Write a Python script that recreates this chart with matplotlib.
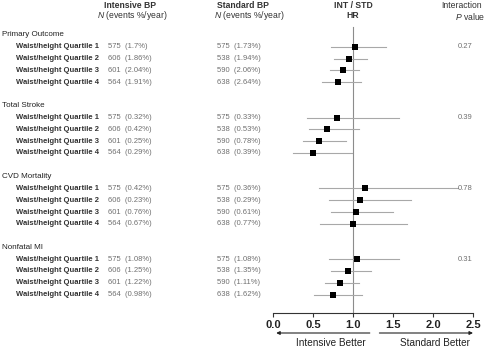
import matplotlib
matplotlib.use("Agg")
import matplotlib.pyplot as plt
from matplotlib.transforms import blended_transform_factory

plt.rcParams['font.family'] = ['Liberation Sans', 'DejaVu Sans']
plt.rcParams['mathtext.fontset'] = 'custom'
plt.rcParams['mathtext.it'] = 'Liberation Sans:italic'
plt.rcParams['mathtext.rm'] = 'Liberation Sans'

# data
outcomes = ['Primary Outcome', 'Total Stroke', 'CVD Mortality', 'Nonfatal MI']
quartiles = ['Waist/height Quartile 1', 'Waist/height Quartile 2',
             'Waist/height Quartile 3', 'Waist/height Quartile 4']
n_int = [575, 606, 601, 564]
n_std = [575, 538, 590, 638]
rate_int = [['1.7', '1.86', '2.04', '1.91'],
            ['0.32', '0.42', '0.25', '0.29'],
            ['0.42', '0.23', '0.76', '0.67'],
            ['1.08', '1.25', '1.22', '0.98']]
rate_std = [['1.73', '1.94', '2.06', '2.64'],
            ['0.33', '0.53', '0.78', '0.39'],
            ['0.36', '0.29', '0.61', '0.77'],
            ['1.08', '1.35', '1.11', '1.62']]
hr = [[1.02, 0.95, 0.875, 0.81],
      [0.80, 0.68, 0.58, 0.50],
      [1.15, 1.09, 1.04, 1.00],
      [1.05, 0.94, 0.84, 0.75]]
ci_low = [[0.73, 0.76, 0.71, 0.61],
          [0.42, 0.45, 0.375, 0.25],
          [0.575, 0.70, 0.73, 0.59],
          [0.70, 0.72, 0.65, 0.51]]
ci_high = [[1.41, 1.18, 1.075, 1.10],
           [1.58, 1.07, 0.91, 0.99],
           [2.31, 1.72, 1.50, 1.68],
           [1.57, 1.22, 1.08, 1.11]]
p_inter = ['0.27', '0.39', '0.78', '0.31']
xticks = [0.0, 0.5, 1.0, 1.5, 2.0, 2.5]

W, H = 486, 348
fig = plt.figure(figsize=(W / 100, H / 100), dpi=100)
ax = fig.add_axes([273 / W, (H - 313) / H, 200 / W, 313 / H])
ax.set_xlim(0, 2.5)
ax.set_ylim(278 / 11.8, -35 / 11.8)
for s in ['top', 'left', 'right']:
    ax.spines[s].set_visible(False)
ax.spines['bottom'].set_color('#333333')
ax.spines['bottom'].set_linewidth(0.8)
ax.set_yticks([])
ax.set_xticks(xticks)
ax.set_xticklabels(['%.1f' % t for t in xticks], fontsize=8, fontweight='bold', color='#222222')
ax.tick_params(axis='x', length=3, width=0.8, color='#333333', pad=2)
ax.patch.set_visible(False)

ax.plot([1, 1], [-0.7, 278 / 11.8], color='#8c8c8c', lw=0.8, zorder=1)

tr = blended_transform_factory(fig.transFigure, ax.transData)
grey = '#707070'
dark = '#333333'

for g, name in enumerate(outcomes):
    r0 = g * 6
    fig.text(2 / W, r0, name, transform=tr, fontsize=5.8, color='#222222', va='center')
    for k in range(4):
        r = r0 + k + 1
        fig.text(16 / W, r, quartiles[k], transform=tr, fontsize=5.5,
                 fontweight='bold', color=dark, va='center')
        fig.text(108 / W, r, '%d  (%s%%)' % (n_int[k], rate_int[g][k]), transform=tr,
                 fontsize=5.5, color=grey, va='center')
        fig.text(217 / W, r, '%d  (%s%%)' % (n_std[k], rate_std[g][k]), transform=tr,
                 fontsize=5.5, color=grey, va='center')
        ax.plot([ci_low[g][k], ci_high[g][k]], [r, r], color='#a8a8a8', lw=0.8, zorder=2)
        ax.plot(hr[g][k], r, marker='s', color='black', markersize=4.6,
                markeredgewidth=0, zorder=3)
    fig.text(465 / W, r0 + 1, p_inter[g], transform=tr, fontsize=5.5,
             color=grey, va='center', ha='center')

# column headers
def ytop(px):
    return 1 - px / H

fig.text(130 / W, ytop(5), 'Intensive BP', fontsize=6.2, fontweight='bold', color=dark, ha='center', va='center')
fig.text(132 / W, ytop(16), '$\\mathit{N}$ (events %/year)', fontsize=6.2, color=dark, ha='center', va='center')
fig.text(243 / W, ytop(5), 'Standard BP', fontsize=6.2, fontweight='bold', color=dark, ha='center', va='center')
fig.text(249 / W, ytop(16), '$\\mathit{N}$ (events %/year)', fontsize=6.2, color=dark, ha='center', va='center')
fig.text(353 / W, ytop(5), 'INT / STD', fontsize=6.2, fontweight='bold', color=dark, ha='center', va='center')
fig.text(353 / W, ytop(16), 'HR', fontsize=6.2, fontweight='bold', color=dark, ha='center', va='center')
fig.text(462 / W, ytop(5), 'Interaction', fontsize=6.2, color=dark, ha='center', va='center')
fig.text(470 / W, ytop(16), '$\\mathit{P}$ value', fontsize=6.2, color=dark, ha='center', va='center')

# direction arrows below the axis
ya = ytop(333)
ax.annotate('', xy=(0.04, ya), xytext=(1.21, ya), xycoords=('data', 'figure fraction'),
            arrowprops=dict(arrowstyle='-|>', color='#222222', lw=0.8,
                            mutation_scale=5, shrinkA=0, shrinkB=0))
ax.annotate('', xy=(2.5, ya), xytext=(1.33, ya), xycoords=('data', 'figure fraction'),
            arrowprops=dict(arrowstyle='-|>', color='#222222', lw=0.8,
                            mutation_scale=5, shrinkA=0, shrinkB=0))
tb = blended_transform_factory(ax.transData, fig.transFigure)
ax.text(0.72, ytop(343), 'Intensive Better', transform=tb, fontsize=7.2,
        color='#222222', ha='center', va='center')
ax.text(2.02, ytop(343), 'Standard Better', transform=tb, fontsize=7.2,
        color='#222222', ha='center', va='center')

fig.savefig('out.png', dpi=100)
